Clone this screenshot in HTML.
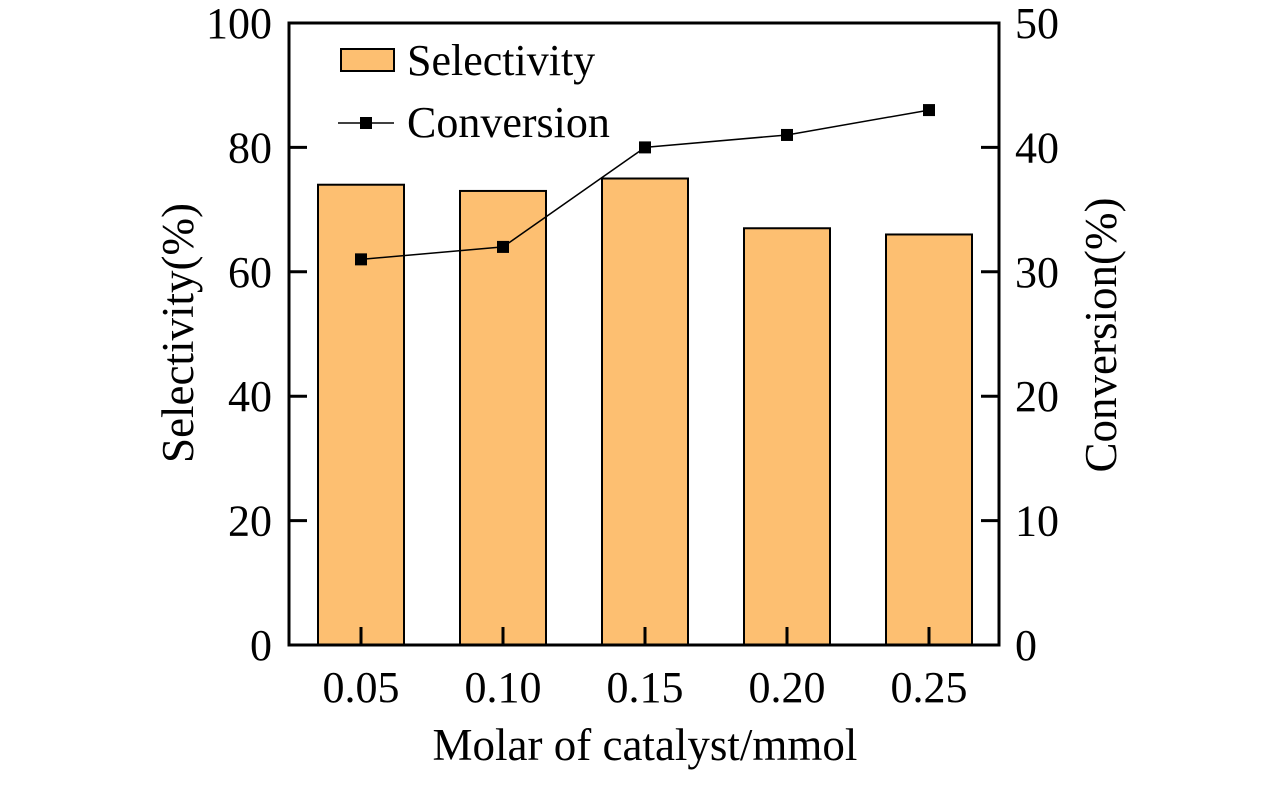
<!DOCTYPE html>
<html><head><meta charset="utf-8"><style>
html,body{margin:0;padding:0;background:#fff;}
svg{display:block;font-family:"Liberation Serif",serif;}
</style></head><body>
<svg id="chart" width="1276" height="787"></svg>
<script>
const categories=["0.05","0.10","0.15","0.20","0.25"];
const selectivity=[74,73,75,67,66];
const conversion=[31,32,40,41,43];
const leftTicks=[0,20,40,60,80,100];
const rightTicks=[0,10,20,30,40,50];
const NS="http://www.w3.org/2000/svg";
const svg=document.getElementById('chart');
const L=289,R=999,T=23,B=645;
const x0=361,step=142,barW=86;
function xPos(i){return x0+i*step;}
function yL(v){return B-(v/100)*(B-T);}
function yR(v){return B-(v/50)*(B-T);}
function mk(tag,attrs,name,txt){const e=document.createElementNS(NS,tag);for(const k in attrs)e.setAttribute(k,attrs[k]);


if(txt!==undefined)e.textContent=txt;svg.appendChild(e);return e;}
selectivity.forEach((v,i)=>{mk('rect',{x:xPos(i)-barW/2,y:yL(v),width:barW,height:B-yL(v),fill:'#fdbf71',stroke:'#000','stroke-width':2},'bar-'+categories[i]);});
mk('rect',{x:L,y:T,width:R-L,height:B-T,fill:'none',stroke:'#000','stroke-width':3},'plot-frame');
leftTicks.forEach(t=>{const y=yL(t);mk('line',{x1:L,x2:L+18,y1:y,y2:y,stroke:'#000','stroke-width':3},'left-tick');
mk('text',{x:272,y:y+15,'text-anchor':'end','font-size':44},'left-tick-label',String(t));});
rightTicks.forEach(t=>{const y=yR(t);mk('line',{x1:R-18,x2:R,y1:y,y2:y,stroke:'#000','stroke-width':3},'right-tick');
mk('text',{x:1015,y:y+15,'text-anchor':'start','font-size':44},'right-tick-label',String(t));});
categories.forEach((c,i)=>{const x=xPos(i);mk('line',{x1:x,x2:x,y1:B-18,y2:B,stroke:'#000','stroke-width':3},'x-tick');
mk('text',{x:x,y:702,'text-anchor':'middle','font-size':44},'x-tick-label',c);});
const pts=conversion.map((v,i)=>xPos(i)+','+yR(v)).join(' ');
mk('polyline',{points:pts,fill:'none',stroke:'#000','stroke-width':1.5},'conversion-line');
conversion.forEach((v,i)=>{mk('rect',{x:xPos(i)-6,y:yR(v)-6,width:12,height:12,fill:'#000'},'conversion-point');});
mk('rect',{x:341,y:49,width:53,height:22,fill:'#fdbf71',stroke:'#000','stroke-width':2},'legend-selectivity-swatch');
mk('text',{x:407,y:75,'font-size':44},'legend-selectivity-label','Selectivity');
mk('line',{x1:338,x2:394,y1:123,y2:123,stroke:'#000','stroke-width':1.5},'legend-conversion-line');
mk('rect',{x:360,y:117,width:12,height:12,fill:'#000'},'legend-conversion-marker');
mk('text',{x:407,y:137,'font-size':44},'legend-conversion-label','Conversion');
mk('text',{x:0,y:0,'text-anchor':'middle','font-size':45,transform:'translate(193,333) rotate(-90)'},'y-axis-title-left','Selectivity(%)');
mk('text',{x:0,y:0,'text-anchor':'middle','font-size':45,transform:'translate(1116,335) rotate(-90)'},'y-axis-title-right','Conversion(%)');
mk('text',{x:645,y:760,'text-anchor':'middle','font-size':45},'x-axis-title','Molar of catalyst/mmol');
</script>
</body></html>
